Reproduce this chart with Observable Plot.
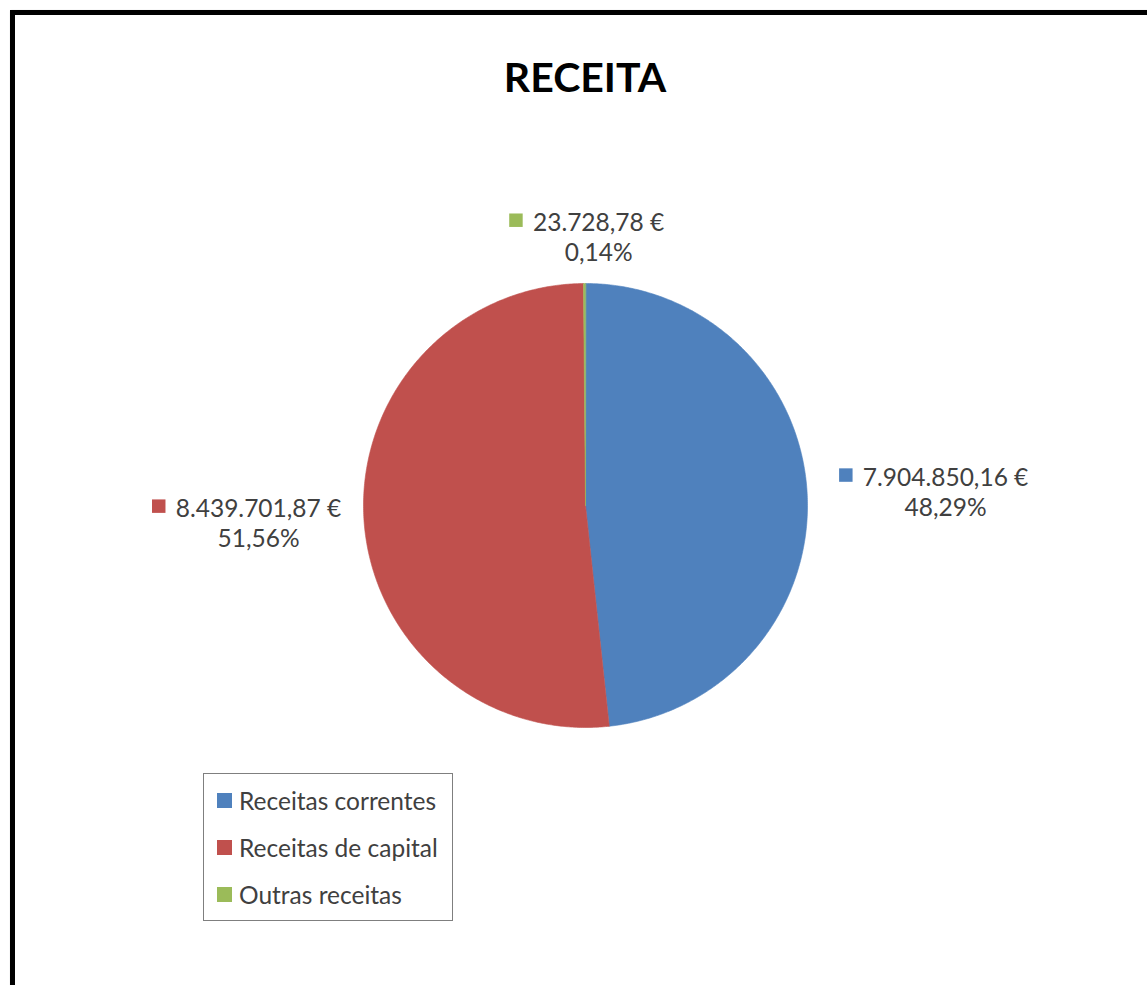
<!DOCTYPE html>
<html>
<head>
<meta charset="utf-8">
<script src="https://cdn.jsdelivr.net/npm/d3@7"></script>
<script src="https://cdn.jsdelivr.net/npm/@observablehq/plot@0.6"></script>
<style>
  html, body { margin: 0; padding: 0; background: #fff; }
  body { width: 1147px; height: 985px; overflow: hidden; position: relative; font-family: Lato, "Open Sans", sans-serif; }
  #frame { position: absolute; left: 10px; top: 10px; width: 1250px; height: 1100px; border: 5px solid #000; box-sizing: border-box; box-shadow: 1px 1px 2px #999; }
  #title { position: absolute; left: 0; width: 1170px; top: 52px; text-align: center; font: bold 41px Lato, "Open Sans", sans-serif; color: #000; line-height: 1.2; }
  #chart { position: absolute; left: 0; top: 0; }
  #legend { position: absolute; left: 203px; top: 773px; width: 250px; height: 148px; border: 1px solid #7f7f7f; box-sizing: border-box; background: #fff; }
  .row { position: absolute; left: 13px; height: 26px; display: flex; align-items: center; font-size: 24.5px; color: #404040; white-space: nowrap; }
  .key { width: 15px; height: 15px; margin-right: 7px; }
</style>
</head>
<body>
<div id="frame"></div>
<div id="title">RECEITA</div>
<div id="chart"></div>
<div id="legend"></div>
<script>
// ---- data ----
const categories = ["Receitas correntes", "Receitas de capital", "Outras receitas"];
const values = [7904850.16, 8439701.87, 23728.78];
const valueLabels = ["7.904.850,16 €", "8.439.701,87 €", "23.728,78 €"];
const percentLabels = ["48,29%", "51,56%", "0,14%"];

// ---- styles / layout ----
const colors = ["#4F81BD", "#C0504D", "#9BBB59"];
const textColor = "#404040";
const cx = 585, cy = 505, R = 222;           // pie placement in the page
const labelCenters = [[1.622, 0.065], [-1.473, -0.075], [0.059, 1.213]]; // in pie-radius units
const fontSize = 24.5;
const fontFamily = "Lato, 'Open Sans', sans-serif";

// ---- slice geometry from values (clockwise from 12 o'clock) ----
const total = d3.sum(values);
const slices = [];
let acc = 0;
categories.forEach((c, i) => {
  const a0 = acc / total * 2 * Math.PI;
  acc += values[i];
  const a1 = acc / total * 2 * Math.PI;
  const steps = Math.max(2, Math.ceil((a1 - a0) / (Math.PI / 360)));
  slices.push({cat: c, x: 0, y: 0});
  for (let k = 0; k <= steps; k++) {
    const a = a0 + (a1 - a0) * k / steps;
    slices.push({cat: c, x: Math.sin(a), y: Math.cos(a)});
  }
});

// ---- labels ----
const ctx = document.createElement("canvas").getContext("2d");
ctx.font = `${fontSize}px ${fontFamily}`;
const lineGap = 30;
const labels = categories.map((c, i) => ({
  cat: c,
  x: labelCenters[i][0],
  y: labelCenters[i][1],
  text: valueLabels[i] + "\n" + percentLabels[i],
  half: ctx.measureText(valueLabels[i]).width / 2
}));

const plot = Plot.plot({
  width: 1147,
  height: 985,
  margin: 0,
  x: {domain: [-1, 1], range: [cx - R, cx + R], axis: null},
  y: {domain: [-1, 1], range: [cy + R, cy - R], axis: null},
  color: {domain: categories, range: colors},
  style: {background: "transparent", overflow: "visible"},
  marks: [
    Plot.line(slices, {x: "x", y: "y", z: "cat", fill: "cat", stroke: "cat", strokeWidth: 0.6, curve: "linear-closed"}),
    Plot.text(labels, {x: "x", y: "y", text: "text", fill: textColor, fontSize, fontFamily, lineHeight: lineGap / fontSize, textAnchor: "middle", lineAnchor: "middle"}),
    Plot.dot(labels, {x: "x", y: "y", symbol: "square", r: 7.6, fill: "cat", render(index, scales, values, dims, context, next) {
      const g = next(index, scales, values, dims, context);
      d3.select(g).selectAll("path").each(function(_, j) {
        const d = labels[index[j]];
        const tx = -d.half - 17;
        const ty = -lineGap / 2 - 1;
        const t = this.getAttribute("transform") || "";
        this.setAttribute("transform", t + ` translate(${tx},${ty})`);
      });
      return g;
    }})
  ]
});
document.getElementById("chart").appendChild(plot);

// ---- legend ----
const legend = document.getElementById("legend");
categories.forEach((c, i) => {
  const row = document.createElement("div");
  row.className = "row";
  row.style.top = (13 + i * 47) + "px";
  row.innerHTML = `<span class="key" style="background:${colors[i]}"></span><span>${c}</span>`;
  legend.appendChild(row);
});
</script>
</body>
</html>
